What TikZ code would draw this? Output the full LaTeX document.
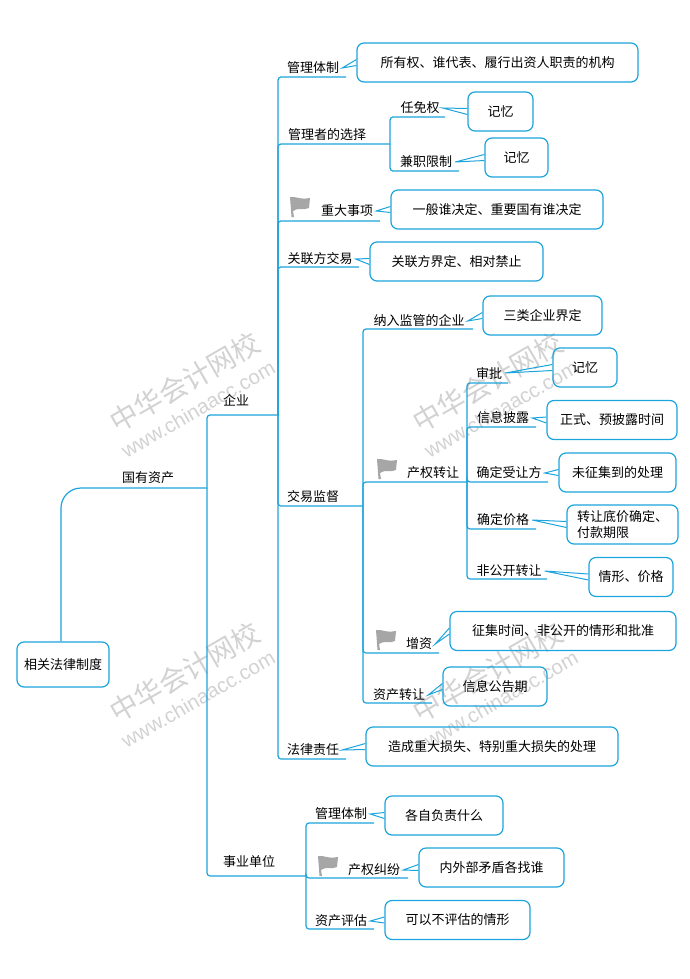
\documentclass[tikz,border=0pt]{standalone}
\usepackage{fontspec}
\setmainfont{Noto Sans CJK SC}
\newfontfamily\markfont{Liberation Sans}
\definecolor{linecol}{HTML}{1CA4DC}
\definecolor{flagcol}{HTML}{A6A6A6}
\definecolor{markcol}{HTML}{D2D2D2}
\tikzset{
    branch/.style={draw=linecol, line width=1.2pt, rounded corners=3pt},
    tie/.style={draw=linecol, line width=1pt},
    topic/.style={inner sep=0pt, font=\fontsize{13}{15}\selectfont},
    leaf/.style={draw=linecol, line width=1.2pt, rounded corners=7pt, inner sep=0pt, minimum height=39pt, align=left, font=\fontsize{13}{16}\selectfont},
}
\begin{document}
\begin{tikzpicture}[x=1pt, y=-1pt]
    \useasboundingbox (0,0) rectangle (689,979);
    % Watermarks
    \foreach \mx/\my in {185/382, 488/382, 185/672, 488/672} {
        \node[rotate=30, text=markcol, font=\fontsize{28}{30}\selectfont] (mark\mx\my) at (\mx,\my) {中华会计网校};
        \node[rotate=30, text=markcol, font=\markfont\fontsize{20.4}{22}\selectfont] (url\mx\my) at (\mx+13,\my+27) {www.chinaacc.com};
    }
    % Root and first fork
    \node[leaf, minimum width=92pt, minimum height=45pt] (root) at (63,664.5) {相关法律制度};
    \coordinate (fork) at (207,488);
    \node[topic] (assets) at (148,478) {国有资产};
    \draw[branch, rounded corners=20pt] ([xshift=-2pt]root.north) |- (fork);
    % Branches: name/parent/label x/label y/end x/end y/text
    \foreach \id/\from/\lx/\ly/\ux/\uy/\txt in {
        corp/fork/236/400/278/415/企业,
        inst/fork/249/862/306/876/事业单位,
        mgmt/corp/313/68/346/77/管理体制,
        boss/corp/327/135/390/144/管理者的选择,
        appoint/boss/420/108/445/117/任免权,
        dual/boss/426/162/459/171/兼职限制,
        major/corp/347/211/380/221/重大事项,
        related/corp/320/259/359/267/关联方交易,
        deal/corp/313/497/363/506/交易监督,
        scope/deal/419/321/473/329/纳入监管的企业,
        equity/deal/433/473/467/482/产权转让,
        review/equity/489/373/508/383/审批,
        disclose/equity/503/418/536/427/信息披露,
        buyer/equity/509/473/548/482/确定受让方,
        price/equity/503/520/536/529/确定价格,
        private/equity/509/571/547/579/非公开转让,
        capital/deal/419/644/439/653/增资,
        sale/deal/399/695/432/703/资产转让,
        duty/corp/313/750/346/759/法律责任,
        instmgmt/inst/341/814/374/823/管理体制,
        dispute/inst/374/870/408/878/产权纠纷,
        apprais/inst/341/921/374/929/资产评估%
    } {
        \coordinate (\id) at (\ux,\uy);
        \node[topic] (t\id) at (\lx,\ly) {\txt};
        \draw[branch] (\from) |- (\id);
    }
    % Leaf boxes: label/centre x/centre y/width/text
    \foreach \id/\cx/\cy/\bw/\txt in {
        mgmt/497.5/62.5/281/所有权、谁代表、履行出资人职责的机构,
        appoint/500.5/111.5/65/记忆,
        dual/516.5/157.5/63/记忆,
        major/497/209.5/212/一般谁决定、重要国有谁决定,
        related/456.5/261.5/173/关联方界定、相对禁止,
        scope/542.5/315.5/119/三类企业界定,
        review/585/367.5/64/记忆,
        disclose/612/420/130/正式、预披露时间,
        buyer/617.5/472.5/117/未征集到的处理,
        price/622.5/524.5/111/转让底价确定、\\付款期限,
        private/631/577/84/情形、价格,
        capital/563/631/226/征集时间、非公开的情形和批准,
        sale/495/686.5/104/信息公告期,
        duty/492/746.5/252/造成重大损失、特别重大损失的处理,
        instmgmt/444/815.5/118/各自负责什么,
        dispute/491.5/867.5/145/内外部矛盾各找谁,
        apprais/457.5/920/145/可以不评估的情形%
    } {
        \node[leaf, minimum width=\bw pt] (b\id) at (\cx,\cy) {\txt};
        \draw[tie] ([yshift=3pt]b\id.west) -- ([xshift=3pt]t\id.east) -- ([yshift=-3pt]b\id.west);
    }
    % Flags
    \foreach \fx/\fy in {290/197, 377/459, 376/630, 318/856} {
        \fill[flagcol, shift={(\fx,\fy)}] (0,0) .. controls (6,-1) and (9,3) .. (20,1) -- (19,11)
            .. controls (13,14) and (8,10) .. (3,14) -- (4,20) -- (1.5,20) -- cycle;
    }
\end{tikzpicture}
\end{document}
